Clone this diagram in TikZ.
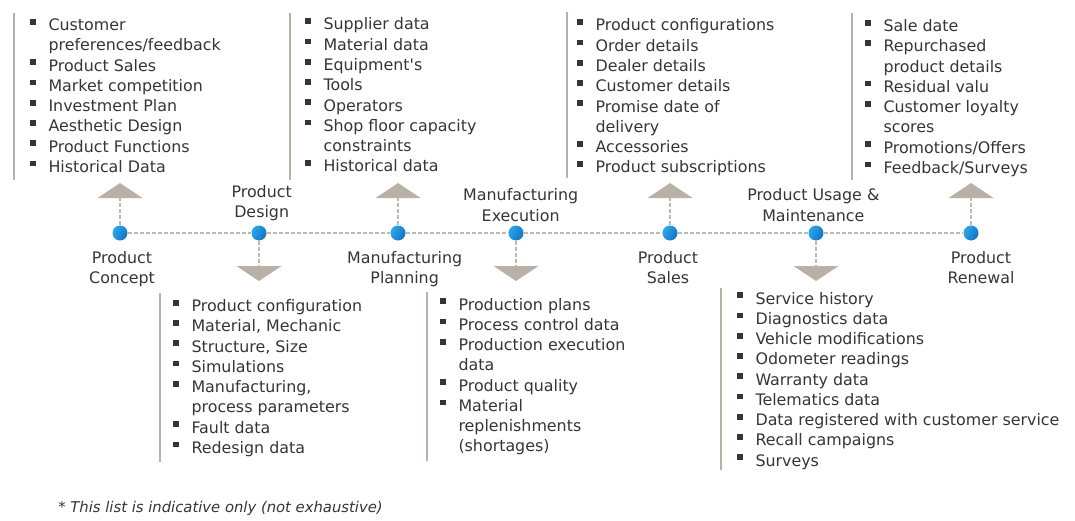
\documentclass[tikz,border=0pt]{standalone}
\usepackage{fontspec}
\setmainfont{DejaVu Sans}
\usetikzlibrary{positioning,calc}
\definecolor{taupe}{HTML}{B9B1A6}
\definecolor{ink}{HTML}{353535}
\definecolor{dotlight}{HTML}{2BA6EA}
\definecolor{dotdark}{HTML}{1573C2}
\newcommand{\bul}{\makebox[13.7pt][l]{\rule[4.5pt]{4.3pt}{4.3pt}}}
\newcommand{\ind}{\hspace*{13.7pt}}
\newcommand{\txtfont}{\fontsize{11.9pt}{15.2pt}\selectfont}

\begin{document}
\begin{tikzpicture}[x=0.75pt, y=-0.75pt,
  dot/.style={circle, inner sep=0pt, minimum size=11.25pt, left color=dotlight, right color=dotdark, shading angle=60},
  link/.style={draw=taupe!90, line width=1.5pt, dash pattern=on 3pt off 1.5pt},
  tri/.style={fill=taupe},
  barline/.style={draw=taupe, line width=2pt},
  lst/.style={anchor=base west, inner sep=0pt, text=ink, font=\txtfont},
  stage/.style={align=center, inner sep=0pt, text=ink, font=\txtfont}]

  \useasboundingbox (0,0) rectangle (1075,521);

  % stages on the time line
  \foreach \n/\x in {1/120, 2/259, 3/398, 4/516, 5/670, 6/816, 7/971}
    \node[dot] (c\n) at (\x,233) {};
  \draw[link] (c1) -- (c2) -- (c3) -- (c4) -- (c5) -- (c6) -- (c7);

  % inputs (up) and outputs (down)
  \foreach \n in {1,3,5,7} {
    \coordinate (t\n) at ($(c\n)+(0,-35)$);
    \draw[link] (c\n) -- (t\n);
    \fill[tri] (t\n) +(-22.5,0) -- +(22.5,0) -- +(0,-15) -- cycle;
  }
  \foreach \n in {2,4,6} {
    \coordinate (t\n) at ($(c\n)+(0,33)$);
    \draw[link] (c\n) -- (t\n);
    \fill[tri] (t\n) +(-22.5,0) -- +(22.5,0) -- +(0,15) -- cycle;
  }

  \node[stage, below=7.5pt of c1, xshift=1.5pt] (s1) {Product\\Concept};
  \node[stage, above=2.8pt of c2, xshift=2pt] (s2) {Product\\Design};
  \node[stage, below=7.5pt of c3, xshift=5pt] (s3) {Manufacturing\\Planning};
  \node[stage, above=2.8pt of c4, xshift=3.5pt] (s4) {Manufacturing\\Execution};
  \node[stage, below=7.5pt of c5, xshift=-1.5pt] (s5) {Product\\Sales};
  \node[stage, above=2.8pt of c6, xshift=-2pt] (s6) {Product Usage \&\\Maintenance};
  \node[stage, below=7.5pt of c7, xshift=7.5pt] (s7) {Product\\Renewal};

  % top lists
  \draw[barline] (14,13) -- (14,180);
  \node[lst] (d1) at (30,30.5) {\parbox[t]{300pt}{%
    \bul Customer\\
    \ind preferences/feedback\\
    \bul Product Sales\\
    \bul Market competition\\
    \bul Investment Plan\\
    \bul Aesthetic Design\\
    \bul Product Functions\\
    \bul Historical Data}};

  \draw[barline] (290,13) -- (290,180);
  \node[lst] (d3) at (305,30) {\parbox[t]{300pt}{%
    \bul Supplier data\\
    \bul Material data\\
    \bul Equipment\textquotesingle s\\
    \bul Tools\\
    \bul Operators\\
    \bul Shop floor capacity\\
    \ind constraints\\
    \bul Historical data}};

  \draw[barline] (567,12) -- (567,178);
  \node[lst] (d5) at (577,31) {\parbox[t]{300pt}{%
    \bul Product configurations\\
    \bul Order details\\
    \bul Dealer details\\
    \bul Customer details\\
    \bul Promise date of\\
    \ind delivery\\
    \bul Accessories\\
    \bul Product subscriptions}};

  \draw[barline] (852,13) -- (852,180);
  \node[lst] (d7) at (865,31.5) {\parbox[t]{300pt}{%
    \bul Sale date\\
    \bul Repurchased\\
    \ind product details\\
    \bul Residual valu\\
    \bul Customer loyalty\\
    \ind scores\\
    \bul Promotions/Offers\\
    \bul Feedback/Surveys}};

  % bottom lists
  \draw[barline] (160,293) -- (160,462);
  \node[lst] (d2) at (173,311.5) {\parbox[t]{300pt}{%
    \bul Product configuration\\
    \bul Material, Mechanic\\
    \bul Structure, Size\\
    \bul Simulations\\
    \bul Manufacturing,\\
    \ind process parameters\\
    \bul Fault data\\
    \bul Redesign data}};

  \draw[barline] (427,292) -- (427,461);
  \node[lst] (d4) at (440,310) {\parbox[t]{300pt}{%
    \bul Production plans\\
    \bul Process control data\\
    \bul Production execution\\
    \ind data\\
    \bul Product quality\\
    \bul Material\\
    \ind replenishments\\
    \ind (shortages)}};

  \draw[barline] (721,288) -- (721,470);
  \node[lst] (d6) at (737,304) {\parbox[t]{400pt}{%
    \bul Service history\\
    \bul Diagnostics data\\
    \bul Vehicle modifications\\
    \bul Odometer readings\\
    \bul Warranty data\\
    \bul Telematics data\\
    \bul Data registered with customer service\\
    \bul Recall campaigns\\
    \bul Surveys}};

  \node[anchor=base west, inner sep=0pt, text=ink, font=\fontsize{11.1pt}{13pt}\selectfont\itshape] (fn) at (58,512)
    {* This list is indicative only (not exhaustive)};
\end{tikzpicture}
\end{document}
